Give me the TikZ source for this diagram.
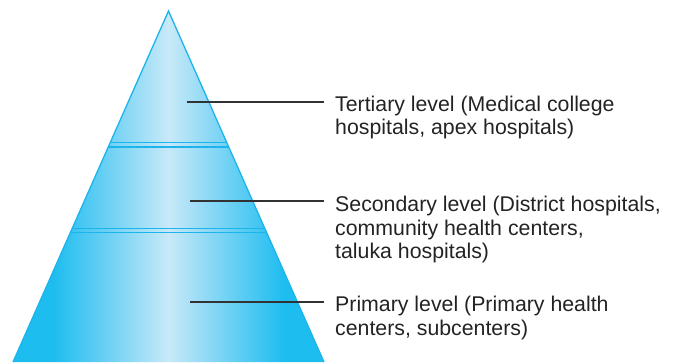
\documentclass[tikz,border=0pt]{standalone}
\usepackage{fontspec}
\setmainfont{Liberation Sans}
\usetikzlibrary{calc}
\definecolor{edgecyan}{RGB}{30,189,240}
\definecolor{midcyan}{RGB}{107,208,244}
\definecolor{lightc}{RGB}{200,233,248}
\definecolor{linecyan}{RGB}{28,180,234}
\definecolor{leadercol}{RGB}{50,50,50}
\definecolor{txtcol}{RGB}{35,35,35}
\pgfdeclarehorizontalshading{pyr}{100bp}{color(0bp)=(edgecyan); color(31.5bp)=(edgecyan); color(40bp)=(midcyan); color(50bp)=(lightc); color(60bp)=(midcyan); color(68.5bp)=(edgecyan); color(100bp)=(edgecyan)}
\tikzset{
  sideline/.style={draw=linecyan, line width=1.3pt, line join=miter},
  sepline/.style={draw=linecyan, line width=1.3pt},
  leaderline/.style={draw=leadercol, line width=1.5pt},
  lbl/.style={anchor=base west, align=left, inner sep=0pt, text=txtcol,
    font=\fontsize{21.3}{23.7}\selectfont}
}
\begin{document}
\begin{tikzpicture}[x=1pt,y=-1pt]
\useasboundingbox (0,0) rectangle (675,362);
\coordinate (apex) at (168.5,11);
\coordinate (bl) at (13,362);
\coordinate (br) at (324,362);
\shade[shading=pyr] (apex) -- (bl) -- (br) -- cycle;
% separators
\foreach \t [count=\i] in {0.3746,0.3875,0.6197,0.631}{
  \coordinate (sl\i) at ($(apex)!\t!(bl)$);
  \coordinate (sr\i) at ($(apex)!\t!(br)$);
  \draw[sepline] (sl\i) -- (sr\i);
}
\draw[sideline] (bl) -- (apex) -- (br);
% labels (anchored at the baseline of their last line)
\node[lbl] (tert) at (335,134.7) {Tertiary level (Medical college\\hospitals, apex hospitals)};
\node[lbl] (sec) at (335,258.9) {Secondary level (District hospitals,\\community health centers,\\taluka hospitals)};
\node[lbl] (prim) at (335,335.2) {Primary level (Primary health\\centers, subcenters)};
% leaders
\coordinate (t1) at (187,102);
\coordinate (t2) at (324,102);
\coordinate (s1) at (190,201);
\coordinate (s2) at (324,201);
\coordinate (p1) at (190,302);
\coordinate (p2) at (324,302);
\draw[leaderline] (t1) -- (t2);
\draw[leaderline] (s1) -- (s2);
\draw[leaderline] (p1) -- (p2);
\end{tikzpicture}
\end{document}
